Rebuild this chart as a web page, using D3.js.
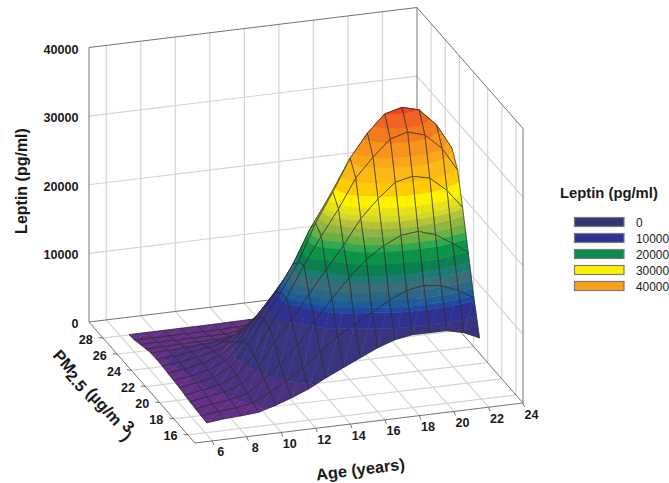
<!DOCTYPE html>
<html>
<head>
<meta charset="utf-8">
<script src="https://cdn.jsdelivr.net/npm/d3@7"></script>
<style>
  body { margin: 0; background: #fff; }
  svg { display: block; font-family: "Liberation Sans", Arial, sans-serif; }
  .bold { font-weight: bold; fill: #1a1a1a; }
</style>
</head>
<body>
<div id="chart"></div>
<script>
const ageTicks = [6, 8, 10, 12, 14, 16, 18, 20, 22, 24];
const pmTicks = [16, 18, 20, 22, 24, 26, 28];
const leptinTicks = [0, 10000, 20000, 30000, 40000];

const ages = [6.5, 7.5, 8.5, 9.5, 10.5, 11.4, 12.4, 13.4, 14.4, 15.4, 16.4, 17.4, 18.4, 19.4, 20.4, 21.4, 22.3];
const pms = [17, 17.8, 18.6, 19.4, 20.1, 20.9, 21.7, 22.5, 23.3, 24.1, 24.9, 25.6, 26.4, 27.2, 28];

// one row per pms entry, one column per ages entry
const leptin = [
  [130, 410, 540, 750, 1470, 2260, 3260, 4560, 5730, 6880, 8030, 8890, 9320, 9310, 9300, 8700, 7660],
  [200, 520, 750, 1150, 2400, 3700, 5300, 7400, 9350, 10800, 12200, 13700, 14800, 15240, 14900, 13900, 12570],
  [300, 680, 1000, 1600, 3400, 5200, 7800, 10900, 13900, 16700, 19000, 20700, 21900, 22180, 21400, 19800, 18200],
  [400, 800, 1200, 2050, 4300, 7600, 10500, 13900, 17200, 20400, 24000, 26600, 28700, 29270, 28700, 26600, 23840],
  [550, 950, 1400, 2450, 5100, 8800, 12900, 17340, 21260, 24900, 29100, 31850, 34170, 34900, 34150, 31900, 28450],
  [700, 1050, 1600, 2800, 5700, 9300, 12780, 16840, 22230, 26440, 31070, 34400, 36890, 37550, 36880, 34400, 30720],
  [800, 1100, 1650, 2700, 5100, 8400, 11700, 15500, 20400, 24300, 28600, 31600, 33900, 34500, 33900, 31600, 28300],
  [900, 1200, 1700, 2500, 4200, 7000, 9900, 13100, 17300, 20600, 24200, 26800, 28800, 29300, 28800, 26800, 24000],
  [1000, 1250, 1650, 2200, 3300, 5400, 7700, 10100, 13300, 15900, 18600, 20600, 22100, 22500, 22100, 20600, 18400],
  [1050, 1200, 1500, 1800, 2400, 3800, 5400, 7100, 9300, 11100, 13000, 14400, 15500, 15800, 15500, 14400, 12900],
  [1000, 1050, 1200, 1350, 1500, 2200, 3200, 4200, 5600, 6600, 7800, 8600, 9200, 9400, 9200, 8600, 7700],
  [800, 800, 850, 900, 900, 1100, 1700, 2200, 2900, 3400, 4000, 4500, 4800, 4900, 4800, 4500, 4000],
  [500, 500, 500, 500, 500, 500, 800, 1000, 1300, 1600, 1900, 2100, 2200, 2300, 2200, 2100, 1800],
  [200, 200, 200, 200, 200, 200, 300, 400, 500, 600, 750, 800, 900, 900, 900, 800, 700],
  [50, 50, 50, 50, 50, 50, 80, 100, 150, 200, 250, 280, 300, 300, 300, 280, 250]
];

const bandEdges = [1100, 3800, 10300, 12200, 12840, 13700, 14730, 16000, 17000, 18300, 19900, 20800, 21800, 22800, 23700, 24350, 25400, 26950, 28600, 30550, 31800, 33650, 35350, 36900];
const bandColors = ["#642f86", "#4d3082", "#38347f", "#2e3192", "#2048a0", "#1f5c99", "#2b6688", "#3a6d78", "#1d7a73", "#0b7f4f", "#0e9447", "#2fa84f", "#6cb044", "#8fb644", "#b5c334", "#d3d62f", "#e6e21a", "#fff200", "#ffcb05", "#fdb913", "#faa61a", "#f7941d", "#f47a1f", "#f26322", "#ee4423"];

const legendLabels = ["0", "10000", "20000", "30000", "40000"];
const legendColors = ["#353472", "#2e3192", "#0b8a4f", "#fff200", "#f9a11b"];

const w = 669;
const h = 483;

const svg = d3.select("#chart").append("svg").attr("width", w).attr("height", h);

// box corners on the floor, the plot is a parallel projection
const front = [195, 443];
const right = [523, 403];
const left = [89, 322];
const wallHeight = 274.5;

const ageScale = d3.scaleLinear().domain([5, 24]).range([0, 1]);
const pmScale = d3.scaleLinear().domain([15, 30]).range([0, 1]);
const zScale = d3.scaleLinear().domain([0, 40000]).range([0, wallHeight]);

const project = (age, pm, z) => {
  const a = ageScale(age);
  const p = pmScale(pm);
  return [
    front[0] + a * (right[0] - front[0]) + p * (left[0] - front[0]),
    front[1] + a * (right[1] - front[1]) + p * (left[1] - front[1]) - zScale(z)
  ];
};

const line3d = (from, to) => {
  const p0 = project(...from);
  const p1 = project(...to);
  return `M${p0[0]},${p0[1]}L${p1[0]},${p1[1]}`;
};

const grid = [];
const [ageMin, ageMax] = ageScale.domain();
const [pmMin, pmMax] = pmScale.domain();
const zMax = zScale.domain()[1];

ageTicks.filter((t) => t < ageMax).forEach((t) => {
  grid.push(line3d([t, pmMin, 0], [t, pmMax, 0]));
  grid.push(line3d([t, pmMax, 0], [t, pmMax, zMax]));
});
pmTicks.forEach((t) => {
  grid.push(line3d([ageMin, t, 0], [ageMax, t, 0]));
  grid.push(line3d([ageMax, t, 0], [ageMax, t, zMax]));
});
leptinTicks.slice(1, -1).forEach((t) => {
  grid.push(line3d([ageMin, pmMax, t], [ageMax, pmMax, t]));
  grid.push(line3d([ageMax, pmMax, t], [ageMax, pmMin, t]));
});

svg.append("g").selectAll("path").data(grid).enter().append("path")
  .attr("d", (d) => d)
  .attr("fill", "none")
  .attr("stroke", "#d9d4ce")
  .attr("stroke-width", 1.2);

const edges = [
  line3d([ageMin, pmMax, 0], [ageMin, pmMax, zMax]),
  line3d([ageMin, pmMax, zMax], [ageMax, pmMax, zMax]),
  line3d([ageMax, pmMax, zMax], [ageMax, pmMin, zMax]),
  line3d([ageMax, pmMin, zMax], [ageMax, pmMin, 0]),
  line3d([ageMax, pmMax, 0], [ageMax, pmMax, zMax]),
  line3d([ageMin, pmMax, 0], [ageMin, pmMin, 0]),
  line3d([ageMin, pmMin, 0], [ageMax, pmMin, 0]),
  line3d([ageMax, pmMin, 0], [ageMax, pmMax, 0]),
  line3d([ageMin, pmMax, 0], [ageMax, pmMax, 0])
];

svg.append("g").selectAll("path").data(edges).enter().append("path")
  .attr("d", (d) => d)
  .attr("fill", "none")
  .attr("stroke", "#737373")
  .attr("stroke-width", 1);

// tick stubs
const tickStubs = [];
ageTicks.forEach((t) => {
  const p = project(t, pmMin, 0);
  tickStubs.push(`M${p[0]},${p[1]}l1.5,4`);
});
pmTicks.forEach((t) => {
  const p = project(ageMin, t, 0);
  tickStubs.push(`M${p[0]},${p[1]}l-4.5,-0.6`);
});
svg.append("g").selectAll("path").data(tickStubs).enter().append("path")
  .attr("d", (d) => d)
  .attr("stroke", "#737373");

// clip a polygon to lo <= z <= hi
const clipBelow = (poly, limit, keepAbove) => {
  const out = [];
  poly.forEach((p, i) => {
    const q = poly[(i + 1) % poly.length];
    const pIn = keepAbove ? p.z >= limit : p.z <= limit;
    const qIn = keepAbove ? q.z >= limit : q.z <= limit;
    if (pIn) out.push(p);
    if (pIn !== qIn) {
      const t = (limit - p.z) / (q.z - p.z);
      out.push({ age: p.age + t * (q.age - p.age), pm: p.pm + t * (q.pm - p.pm), z: limit });
    }
  });
  return out;
};

const color = d3.scaleThreshold().domain(bandEdges).range(bandColors);
const bandLimits = [0, ...bandEdges, zMax];
const polyLine = d3.line().curve(d3.curveLinearClosed);

const node = (r, c) => ({ age: ages[c], pm: pms[r], z: leptin[r][c] });

// back to front so nearer cells cover what is behind them
const cells = [];
for (let r = pms.length - 2; r >= 0; r--) {
  for (let c = ages.length - 2; c >= 0; c--) {
    cells.push({ r, c, quad: [node(r, c), node(r, c + 1), node(r + 1, c + 1), node(r + 1, c)] });
  }
}

const cellBands = (d) => {
  const [n0, n1, n2, n3] = d.quad;
  const pieces = [];
  [[n0, n1, n2], [n0, n2, n3]].forEach((tri) => {
    d3.pairs(bandLimits).forEach(([lo, hi]) => {
      const part = clipBelow(clipBelow(tri, lo, true), hi, false);
      if (part.length > 2) {
        pieces.push({ z: (lo + hi) / 2, pts: part.map((p) => project(p.age, p.pm, p.z)) });
      }
    });
  });
  return pieces;
};

const cell = svg.append("g").attr("id", "surface")
  .selectAll("g").data(cells).enter().append("g");

cell.selectAll("path.band").data(cellBands).enter().append("path")
  .attr("class", "band")
  .attr("d", (d) => polyLine(d.pts))
  .attr("fill", (d) => color(d.z))
  .attr("stroke", (d) => color(d.z))
  .attr("stroke-width", 0.5);

cell.append("path")
  .attr("d", (d) => polyLine(d.quad.map((p) => project(p.age, p.pm, p.z))))
  .attr("fill", "none")
  .attr("stroke", "#2b2b2b")
  .attr("stroke-opacity", 0.85)
  .attr("stroke-width", 0.8);

// tick labels
svg.append("g").selectAll("text").data(leptinTicks).enter().append("text")
  .attr("class", "bold")
  .attr("x", 78.5)
  .attr("y", (d) => project(ageMin, pmMax, d)[1] + 6)
  .attr("text-anchor", "end")
  .attr("font-size", 12.6)
  .text((d) => d);

svg.append("g").selectAll("text").data(ageTicks).enter().append("text")
  .attr("class", "bold")
  .attr("x", (d) => project(d, pmMin, 0)[0] + 8.5)
  .attr("y", (d) => project(d, pmMin, 0)[1] + 15.5)
  .attr("text-anchor", "middle")
  .attr("font-size", 12.6)
  .text((d) => d);

svg.append("g").selectAll("text").data(pmTicks).enter().append("text")
  .attr("class", "bold")
  .attr("x", (d) => project(ageMin, d, 0)[0] - 17.5)
  .attr("y", (d) => project(ageMin, d, 0)[1] + 5.5)
  .attr("text-anchor", "middle")
  .attr("font-size", 12.6)
  .text((d) => d);

// axis titles
svg.append("text")
  .attr("class", "bold")
  .attr("transform", "translate(27,181) rotate(-90)")
  .attr("text-anchor", "middle")
  .attr("font-size", 16)
  .text("Leptin (pg/ml)");

svg.append("text")
  .attr("class", "bold")
  .attr("transform", "translate(361,475) rotate(-7)")
  .attr("text-anchor", "middle")
  .attr("font-size", 16.4)
  .text("Age (years)");

const pmTitle = svg.append("text")
  .attr("class", "bold")
  .attr("transform", "translate(52,356) rotate(48.5)")
  .attr("font-size", 16.4);
pmTitle.append("tspan").text("PM");
pmTitle.append("tspan").attr("dy", 4).attr("dx", -1).attr("font-size", 16).text("2.5");
pmTitle.append("tspan").attr("dy", -4).text(" (µg/m ");
pmTitle.append("tspan").attr("dy", -5).text("3");
pmTitle.append("tspan").attr("dy", 8).attr("dx", -1).text(")");

// legend
svg.append("text")
  .attr("class", "bold")
  .attr("x", 560)
  .attr("y", 198)
  .attr("font-size", 14.8)
  .text("Leptin (pg/ml)");

const legend = svg.append("g").selectAll("g").data(legendLabels).enter().append("g")
  .attr("transform", (d, i) => `translate(574.5,${217.5 + i * 16})`);

legend.append("rect")
  .attr("width", 49.5)
  .attr("height", 9)
  .attr("fill", (d, i) => legendColors[i])
  .attr("stroke", "#7a7a7a")
  .attr("stroke-width", 1.2);

legend.append("text")
  .attr("x", 61.5)
  .attr("y", 9.5)
  .attr("font-size", 11.9)
  .attr("fill", "#1a1a1a")
  .text((d) => d);
</script>
</body>
</html>
